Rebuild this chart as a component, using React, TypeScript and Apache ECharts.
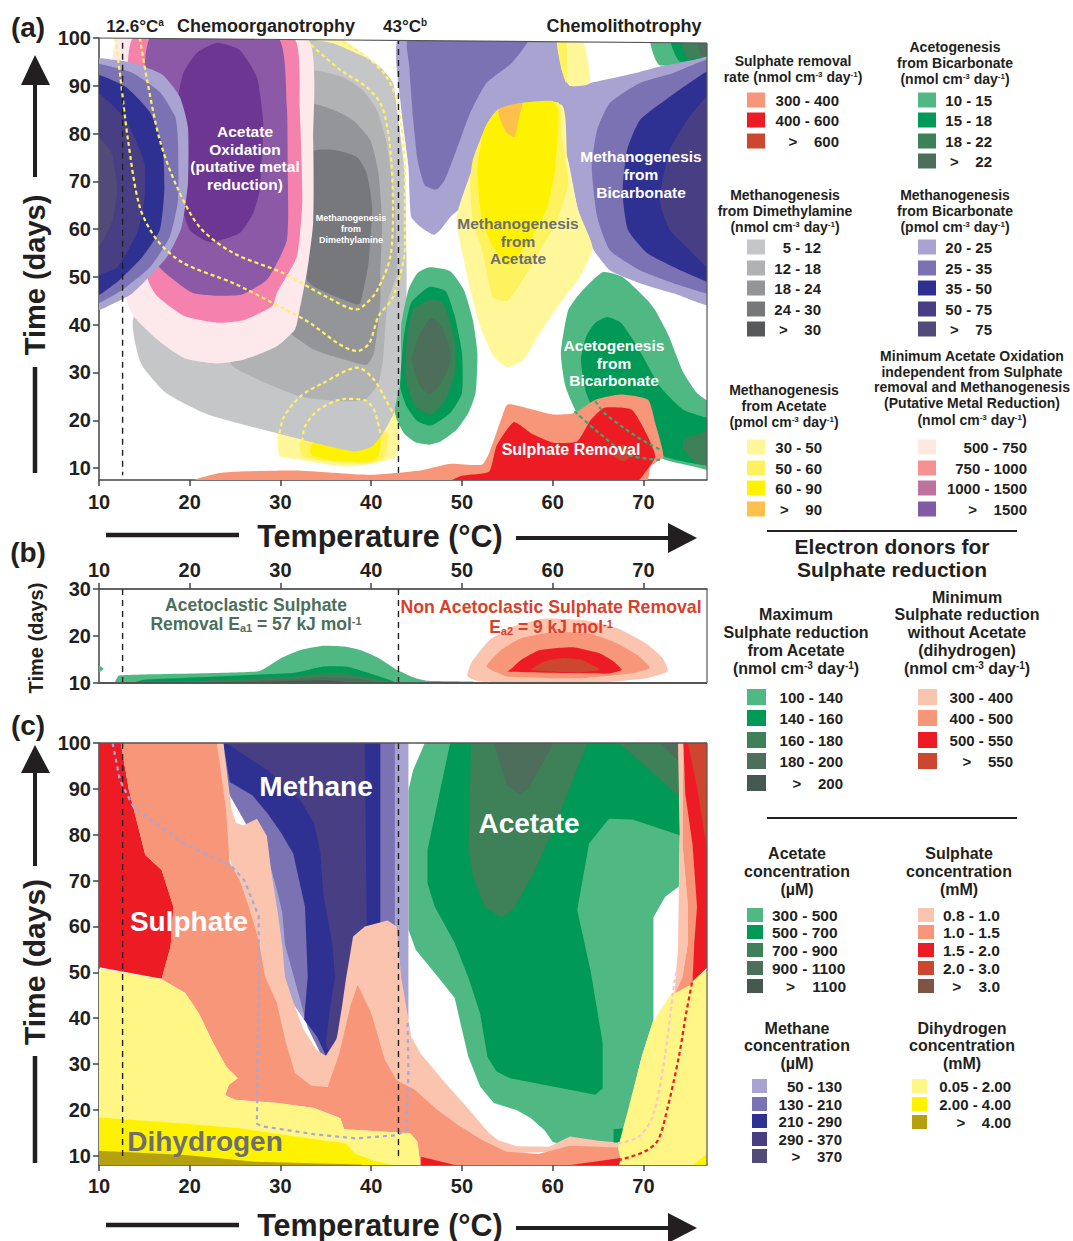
import React, { useEffect, useRef } from "react";
import * as echarts from "echarts";

type P = number[][];
const FONT = '"Liberation Sans"';
const INK = "#231F20";

// ---------- tick labels ----------
const tempTicks = [10, 20, 30, 40, 50, 60, 70];
const timeTicks = [10, 20, 30, 40, 50, 60, 70, 80, 90, 100];
const timeTicksB = [10, 20, 30];

// ---------- colours ----------
const cGray = ["#C4C6C8", "#B0B2B4", "#939598", "#77787B", "#58595B"];
const cPurple = ["#A9A3D1", "#7A72B3", "#2E3192", "#483E84", "#524A78"];
const cYellow = ["#FFF799", "#FFF25F", "#FFF200", "#FDC04B"];
const cGreen = ["#50B983", "#009955", "#3E8057", "#4C6E5A", "#46594F"];
const cRed = ["#FBC4AF", "#F79679", "#ED1C24", "#CC4630", "#7F5442"];
const cMetal = ["#FDE8EC", "#F582AC", "#8B59A5", "#6C3692"];
const cMetalKey = ["#FDE9E1", "#F59191", "#BF74A0", "#8159A4"];
const cH2 = ["#FFF685", "#FFF200", "#B5A00F"];

// ---------- panel (a) contours [temperature, days] ----------
const aYellowLow1: P = [[29.9,18],[29.9,12.5],[31.6,11.9],[37,10.3],[39.8,10.8],[42.8,12.5],[42.9,23],[38,22]];
const aYellowLow2: P = [[32.2,15.6],[32.4,12.5],[34.7,11.4],[39.3,10.9],[41.3,11.8],[41.8,17.3],[36,20]];
const aYellowLow3: P = [[33.4,14.9],[33.4,12.8],[36.2,11.4],[39.8,11.3],[40.8,12.5],[41,16.6],[37,20]];
const aGray1: P = [[13.8,41.4],[14.6,32],[17.4,25.7],[22,21.2],[29.6,17.3],[38,13.5],[40,14.4],[41.3,17.3],[42.8,23],[43.8,39.7],[43.9,50.8],[43.7,71.7],[42.8,85.6],[42.4,90.6],[41,93.9],[39.1,96.4],[35.8,99],[32.7,100],[30,100]];
const aGray2: P = [[33,92.9],[36.9,91.8],[39.1,89],[40.6,85],[41.7,78],[42.6,64.6],[42.8,50.8],[41.8,44.6],[41.3,32.7],[40.8,27.8],[39.3,24.3],[36.5,24],[32.2,25],[27.6,28.5],[24.5,32],[30,45]];
const aGray3: P = [[33.3,86],[35.8,85],[38,82.8],[39.9,78.6],[40.8,71.7],[41.2,61.3],[41,50.8],[41,44.6],[40.3,34],[39.5,31.6],[37,32.7],[33.7,34.8],[30.1,39.7],[28,45]];
const aGray4: P = [[33.5,76.1],[35.8,76.6],[38.4,75.1],[39.5,71.7],[40.1,64.6],[39.7,52.9],[38.8,44.5],[38.3,44.2],[32.9,49.4]];
const aBicarbR1: P = [[43.1,100],[43.2,87],[44.1,73],[44.4,62.6],[45.4,60.5],[46.9,58.8],[47.6,59.8],[48.7,62.5],[49.6,64],[52,68],[55,72],[60.6,78],[61.6,75],[62.8,64],[64.4,56],[66.3,51.4],[69.6,48.7],[73.3,46.6],[78,44.2],[78,96.9],[77,96.6],[73.3,94.8],[69.6,92.9],[64.1,90.6],[61.9,90],[61,93.3],[60.5,100]];
const aBicarbR2: P = [[44.1,100],[57.3,100],[55.6,95],[52.7,90.6],[50.9,84.3],[49.4,76.6],[48.1,70.3],[47.2,68.3],[45.9,69.2],[45.1,74.5],[44.6,83.5],[44.2,94]];
const aBicarbR2b: P = [[78,95],[77,95.5],[73.3,92.7],[69.6,90.6],[66.3,86.4],[64.9,80.8],[64.3,73],[64.9,62.6],[66.3,55.6],[69.6,51.4],[73.3,48.7],[77,46.5],[78,46]];
const aBicarbR3: P = [[78,92.5],[77,93],[72.9,87.7],[69.6,82.8],[68.2,76.6],[67.7,67.6],[68.3,59.8],[70.4,55],[73.3,52.1],[77,49],[78,48.5]];
const aBicarbR4: P = [[78,87],[77,87.7],[74.8,82.8],[72.9,76.6],[71.8,66],[72.9,59.8],[75.1,55.6],[77,52],[78,51.5]];
const aAcetate1: P = [[53,82],[54,85],[61,86],[61.6,75],[62.8,64],[64.4,56],[62.8,49.4],[61.1,45.3],[58.6,38.3],[56.8,32.7],[55,31.1],[53.5,33.4],[52,39.7],[51,46.7],[50.2,53.6],[49.4,62.5],[51.7,75.5]];
const aAcetate2: P = [[54,85],[60.6,86.5],[61,79.3],[61.7,69.6],[60.5,61.9],[58.6,55.6],[56.7,49.4],[55,45],[53.4,45.8],[52.3,55],[51.2,61.9],[50.9,69.6],[51.2,74.5],[52.8,82.2]];
const aAcetate3: P = [[54,85],[56.6,86.4],[60,86.8],[60.6,85],[60.5,78.6],[60.2,71.7],[59.4,64.6],[57.5,57.7],[55.1,52.5],[53.4,56.3],[52.2,61.9],[51.7,71.7],[52.2,79.3],[52.8,82.2]];
const aAcetate4: P = [[54,85],[56.6,86.4],[56.3,83.5],[55.8,79.3],[54.8,80.4]];
const aAcetateTop1: P = [[60.5,100],[63.2,100],[64.1,90.6],[61.9,90],[61,93.3]];
const aAcetateTop2: P = [[60.5,100],[61.5,100],[61.5,90.5],[61,93.3]];
const aAcetateTop3: P = [[33,100],[36.5,100],[39.5,96],[39.1,96.2],[35.8,98.9],[33,99.8]];
const aMetal1: P = [[12.1,100],[32.9,100],[33.6,78.6],[33.6,61.3],[32.9,50.8],[32.1,43],[31.6,39],[29.6,35.5],[26,32.7],[23,31.9],[19.4,33],[16.4,36.9],[13.8,41.8],[12.8,46.7]];
const aMetal2: P = [[13.7,100],[31.4,100],[32.1,85.6],[32.4,66],[31.8,54.2],[29.6,46.6],[29.1,43.9],[26,41],[23,40.4],[19.4,41.8],[16.4,46],[15.4,49.4]];
const aMetal3: P = [[15.6,100],[29.7,100],[30.7,85.6],[30.8,71.7],[30.7,57.7],[28.5,49.4],[25.5,46.2],[20.4,46.6],[17.3,50.8],[16.1,53.6]];
const aMetal4: P = [[23,99],[25.5,97.5],[27.4,91.8],[28.1,82.2],[27.7,68.2],[27,63.4],[25.5,59.2],[22.2,57.3],[20,59.8],[18.5,70],[18.5,85],[19.3,92.7],[20.8,96.9]];
const aBicarbL1: P = [[9,95.8],[10,95.8],[13.7,94.8],[17,92.3],[18.9,87.7],[19.8,81.4],[19.8,69.6],[19.1,60.4],[17.5,54.2],[13.7,46.6],[10,43],[9,42.5]];
const aBicarbL2: P = [[9,94.6],[10,94.6],[13.7,92.7],[16.7,88.7],[18.4,83.5],[18.7,78.6],[18.7,66],[17.8,58.4],[15.6,52],[12.6,47.3],[10,44.5],[9,44]];
const aBicarbL3: P = [[9,92.3],[10,92.3],[13,89.7],[15.6,84.5],[17,77.2],[17.2,68.2],[16.7,59.8],[14.8,54.2],[12.3,49.4],[10,46.2],[9,46]];
const aBicarbL4: P = [[9,88.5],[10,88.5],[13,82.8],[15,73.8],[15,66],[14.2,59.2],[12,52],[10,50.4],[9,50]];
const aBicarbL5: P = [[9,79.3],[10,79.3],[11.4,75.9],[12,68.2],[11.5,61.9],[10,56.3],[9,56]];
const aGreenMid1: P = [[46.4,52],[48.7,51.2],[50.2,47.3],[51.2,41],[51.7,34],[51.5,25.7],[50.7,21.5],[49.4,18],[47.7,15.6],[46.4,14.9],[44.9,15.4],[43.6,17.3],[42.6,21.5],[43.3,29.2],[43.3,39.7],[44.1,47.3],[45.1,50.8]];
const aGreenMid2: P = [[46.4,47.9],[48.2,47],[49.2,41.8],[50,34],[50,25.7],[48.7,21.5],[46.6,18.9],[45.1,19.8],[43.9,22.9],[43.2,27],[43.6,37.6],[44.4,44.6]];
const aGreenMid3: P = [[46.6,45.3],[47.9,44.6],[49.2,36.9],[49.2,29.9],[48.2,24.3],[46.6,21.2],[44.9,22.9],[43.9,27.8],[43.9,36.9],[44.6,43.2]];
const aGreenMid4: P = [[46.6,41.4],[47.7,39.7],[48.7,34.8],[48.7,32],[47.7,27.8],[46.5,25.4],[45.4,27.1],[44.5,32.7],[45.4,38.3]];
const aGreenR1: P = [[65.5,51],[67.7,50],[70.4,45.2],[71.3,43],[72.8,37.6],[74.4,30],[75.9,25.7],[77.4,23.6],[78,23],[78,9.6],[75.4,10.4],[72.3,11.8],[65,18],[62.7,21.5],[61.4,27.1],[60.9,34],[61.7,43],[63,46.6]];
const aGreenR2: P = [[66,41.6],[67.5,40.4],[69.3,35.5],[71.8,27.1],[74.4,22.2],[77.4,20.3],[78,20],[78,10.8],[75.4,11],[72.3,12.4],[65.2,20.1],[63.7,25.7],[63.1,32.7],[63.7,37.6],[64.7,40.4]];
const aGreenR3: P = [[78,17.8],[77.4,18],[74.4,15.9],[74.4,13.9],[75.9,11],[77.4,10.4],[78,10.3]];
const aGreenTop1: P = [[70.8,100],[78,100],[78,96.9],[71.8,94.3]];
const aGreenTop2: P = [[73,100],[78,100],[78,96.9],[74,95.1]];
const aGreenTop3: P = [[74.2,100],[78,100],[78,96.9],[74.9,95.7]];
const aGreenTop4: P = [[75.9,100],[78,100],[78,96.9],[76.4,96.4]];
const aSulphate1: P = [[20.2,7.2],[23.5,9],[31.6,9.5],[39.8,8.6],[45.4,9.5],[48.7,10.9],[52.2,10.7],[53,13.2],[54.3,20.1],[55,23.3],[56.5,22.9],[60.1,21.2],[62.4,21.5],[64.7,24.3],[67.5,25.4],[70.5,24.3],[71.3,19.4],[72.2,12.4],[70.8,10.4],[70.3,7.2]];
const aSulphate2: P = [[48.7,7.2],[50,8.4],[53,9.3],[53.8,14.6],[55.7,19.6],[57.6,17.3],[60.1,15.3],[62.7,15.6],[64.2,20.1],[65.7,22.6],[68.7,22.2],[70.3,17.3],[71.3,12.4],[70,8.6],[69.3,7.2]];
const aSulphate3: P = [[66.7,13.9],[67.8,14.9],[68.9,13.1],[67.8,11.4],[66.7,12.5]];

// dashed outlines of panel (a)
const aDashA: P = [[11.8,100],[12.3,92.7],[13.2,78.6],[14.5,64.6],[16.4,57.7],[19.3,52.9],[24.8,48.7],[29.1,44.6],[32.7,41],[38.5,34.5],[39.8,36.2],[40.8,41.8],[42.4,45.8],[43.7,56.3],[43.7,71.7],[43,85.6],[41.7,91.8],[39.5,96],[36.9,99.2]];
const aDashB: P = [[14.5,100],[15.3,91.2],[16.7,78.6],[18.6,68.8],[21.1,60.4],[24.8,55],[30.3,50.8],[35.1,45.8],[38.4,43.2],[39.3,44.2],[40.6,47],[42.1,54.2],[42.4,64.6],[42.1,76.6],[41.2,85.6],[39.5,89.7],[36.6,93.3],[33,99.2]];
const aDashC: P = [[29.9,17.3],[30.4,20.8],[32.2,25],[34.7,27.8],[38.5,31],[40.3,28.5],[41.6,24.3],[42.6,20.8]];
const aDashD: P = [[32.4,15.6],[32.7,18.7],[34.2,22.2],[37.2,24.5],[39.3,24.2],[40.3,22.2],[41,17.3]];
const aDashE: P = [[64.7,24],[65.7,21.5],[69.3,16.5],[72,13.7]];
const aDashF: P = [[62.4,21.9],[64.7,18],[68.3,12.8],[71.8,11.7]];

// ---------- panel (b) contours ----------
const bGreen1: P = [[11.8,10],[12.2,11.6],[27.6,12.5],[30.1,15.3],[32.2,17],[34.7,17.9],[37.2,17.7],[38.8,17],[40.8,15.3],[42.8,12.8],[44.9,11],[46.1,10.5],[51.2,10.3],[51.5,10]];
const bGreen2: P = [[13.8,10],[14.9,10.7],[31.6,12.2],[34.7,13.5],[37.2,13.5],[39.8,12.1],[42.8,10]];
const bGreen3: P = [[16.4,10],[31.6,11.4],[34.7,12.1],[37.2,12],[42.3,10]];
const bGreen4: P = [[18.4,10],[31.6,10.8],[34.7,11.2],[38.8,10.8],[41.3,10]];
const bGreen5: P = [[24.5,10],[34.7,10.6],[38.3,10]];
const bGreenDot: P = [[10,13.7],[10.5,13],[10,12.3]];
const bRed1: P = [[50.6,11.4],[51,14.2],[53,19.1],[55.5,21.9],[59.1,23.7],[63.7,23.3],[67.2,21.6],[70.3,18.4],[72.1,15.3],[72.7,12.5],[70.3,11],[65.2,10.1],[55,10.1],[52,10.3]];
const bRed2: P = [[52.7,13.5],[54.3,17],[56.5,19.5],[59.6,20.7],[63.7,20.7],[66.7,18.8],[69.3,16],[70.7,13.2],[68.8,12.1],[62.7,11],[55,11.4]];
const bRed3: P = [[55.3,12.8],[56.5,14.9],[58.6,17],[62.2,17.6],[65.2,16.3],[66.7,14.6],[67.6,12.8],[66.2,12],[55,12.4]];
const bRed4: P = [[57.6,12.8],[59.1,14.6],[61.1,15.3],[63.2,14.9],[65.2,12.8],[62.7,12.2]];

// ---------- panel (c) contours ----------
const cMethane1: P = [[23.7,100],[44.1,100],[44.1,39.7],[43,45],[36,30],[29,50],[28,75]];
const cMethane2: P = [[23.7,100],[42.6,100],[42.6,60],[38,40],[35,30],[33,38],[30.5,56],[30.2,63],[29.6,68],[28.9,73],[24,90]];
const cMethane3: P = [[23.7,100],[41,100],[41,60],[38,45],[35.2,31],[34,36],[32.6,39.7],[33,49],[32.7,64.3],[31.4,75.9],[30.1,80.3],[28.6,84.6],[26.9,88.6],[24.4,91.5]];
const cMethane4: P = [[24,100],[39.3,100],[39.5,60],[37.5,45],[35.5,31.5],[35,34.6],[35.5,42.6],[36,49],[35.7,56.4],[34.7,67.2],[34.4,76],[33.7,82.5],[32.2,87.5],[28.6,94]];
const cAcetate1: P = [[44.1,89.7],[44.6,94],[45.9,100],[73.9,100],[74,80],[73.9,68.7],[72.4,66.5],[71.1,62],[71.1,50],[71.1,39.7],[69.8,31.6],[68.3,19.3],[67.3,12.9],[62,12],[60,13],[59.1,15.6],[57.6,18.2],[56,20],[53.5,21.5],[52,25.1],[50.7,31.6],[50,37.5],[49.2,44.4],[47.4,48.9],[44.9,54.9],[44.1,59.3]];
const cAcetate2: P = [[48.7,100],[46.2,76.7],[46.2,69.4],[47,64.3],[49.2,56.4],[50.7,48.9],[52,41],[52.8,31.6],[53.8,28.4],[55.3,26.9],[64.7,23.3],[65.5,24.7],[65.5,34.6],[64.2,50],[62.7,63.6],[64,78.1],[66.2,83.5],[68.8,83.3],[74,79.9],[73.9,88.3],[73.9,100]];
const cAcetate3: P = [[51,100],[50.7,76.7],[51.2,70.9],[52.5,64.3],[54.3,62],[55.6,63.6],[57.7,70.9],[60.2,81.7],[63.8,100]];
const cAcetate3b: P = [[67.3,100],[70.3,94.8],[73.9,88.3],[73.9,100]];
const cAcetate4: P = [[53.5,100],[55,90.8],[56.3,88.8],[57.3,90],[60.1,100]];
const cAcetate4b: P = [[71.9,100],[73.9,95.9],[73.9,100]];
const cAcetateSmall: P = [[66.7,15.8],[67.8,16],[68,15],[67.6,12.9],[66.7,12.9]];
const cSulphateRedLeft: P = [[9,100],[12.4,100],[13.3,89.7],[15.1,75.6],[16.9,72.3],[18.2,64.3],[17.9,55.7],[16.9,48.6],[9,51.5]];
const cSulphatePale: P = [[23,100],[23.7,100],[24.6,85.5],[25.1,82.6],[25.9,82],[27.4,83.5],[28.5,79.7],[29,71.7],[29.7,63],[30.2,55.8],[30.5,49],[31.5,43],[32.5,37.7],[34,33],[35,31.8],[36.2,35.5],[36.8,42.8],[37.2,48.4],[38,57.8],[39.3,60],[41.8,61.3],[42.8,60],[43.3,48.9],[44.1,39.7],[44.4,36],[45.4,32.4],[47.9,26.5],[50.5,20.7],[53,14.9],[54,13.4],[56,12.1],[59.6,12],[61.9,14.2],[65,13.3],[67.2,12.9],[67.5,11.5],[54.9,10.5],[47.3,19],[44,22],[38.5,30],[33,22],[27,45],[24,80]];
const cSulphateMain: P = [[12.4,100],[23,100],[24,85.4],[24.4,73.8],[25.5,70.1],[26.5,64.3],[27.6,57],[28.3,49.1],[29.6,43.3],[30.6,34.6],[31.6,28],[33.4,25.3],[35.2,25],[36.5,32.4],[37.7,42.6],[38.5,47.3],[40,41.1],[41.5,30.9],[42.8,26.5],[44.8,24.4],[47.3,20],[49.8,16.4],[52.3,13.4],[54.9,10.9],[58.4,10.4],[61.9,12.2],[67.2,11.8],[67.5,9],[67.4,7],[45.4,7],[45.4,8],[45.1,13],[44.3,14.9],[37,15.8],[36.6,18.2],[33.7,20.4],[29.7,21.5],[25,22.2],[23.9,23.2],[24.3,25.5],[25.3,26.9],[24,29.5],[22.5,34.9],[21,41.1],[19.5,45.5],[16.9,48.5],[17.9,55.7],[18.2,64.3],[16.9,72.3],[15.1,75.6],[13.3,89.7]];
const cSulphateBottom1: P = [[45.5,7],[45.5,9.8],[49.2,8],[49.2,7]];
const cSulphateBottom2: P = [[62,8],[67.5,9.5],[67.5,7],[62,7]];
const cRightPale: P = [[73.8,100],[74.4,100],[74.3,78],[74.9,64.3],[74.9,56.4],[74.3,49],[73.4,45],[73.8,55],[73.9,68],[74,80]];
const cRightSalmon: P = [[74.4,100],[74.3,78],[74.9,64.3],[74.9,56.4],[74.3,49],[73.5,45.5],[75.4,47.5],[76,65],[75,100]];
const cRightRed: P = [[74.4,100],[78,100],[78,55],[77,51],[75.4,48],[75.6,56.4],[75.9,64.3],[75.4,78],[74.6,89]];
const cRightDark: P = [[74.9,100],[78,100],[78,68],[77.3,71],[76.9,78],[75.9,90.4]];
const cH2Left1: P = [[9,51.2],[16.9,48.5],[19.5,45.5],[21,41.1],[22.5,34.9],[24,29.5],[25.3,26.9],[24.3,25.5],[23.9,23.2],[25,22.2],[29.7,21.5],[33.7,20.4],[36.6,18.2],[37,15.8],[44.3,14.9],[45.1,13],[45.4,8],[45.4,7],[9,7]];
const cH2Left2: P = [[9,18.5],[19.5,17],[25.5,16],[31.6,14.2],[37.2,12.7],[38.2,10.5],[40.2,9],[42.3,8],[42.3,7],[9,7]];
const cH2Left3: P = [[9,11.2],[19.5,10.2],[27.2,8.7],[38.9,8.1],[38.9,7],[9,7]];
const cH2Right1: P = [[67.2,11.8],[68.3,20],[69.8,31.6],[71,39],[73.1,45.5],[75,48.4],[77,50.5],[78,51],[78,7],[67.2,7],[67.5,9.5]];
const cH2Right2: P = [[75.5,8],[77,10.5],[78,11],[78,7],[75.5,7]];
const cDashMethane: P = [[11.5,100],[12.3,91.9],[13.8,86],[19.4,78],[24.5,73.4],[26,70.1],[27.6,62.2],[27.6,49],[27.4,17],[28.1,16.4],[33.7,14.7],[38.3,13.8],[42.8,14.5],[43.9,15.6],[44.1,28.7],[44,39.7]];
const cDashPink: P = [[67.2,12.7],[69.5,14.2],[71,18.5],[72.3,30.9],[73.3,46.2],[73.6,50]];
const cDashRed: P = [[67.2,9],[70.1,10.9],[71.6,13.4],[72.6,20],[73.9,31.6],[74.7,41],[75.4,48.3]];

// reference temperatures (dashed verticals)
const lineA126: P = [[12.6, 99], [12.6, 8.5]];
const lineA43: P = [[43, 100], [43, 9]];
const lineB126: P = [[12.6, 30], [12.6, 10]];
const lineB43: P = [[43, 30], [43, 10]];
const lineC126: P = [[12.6, 100], [12.6, 9.2]];
const lineC43: P = [[43, 100], [43, 9.2]];

const layersA: [P, string][] = [
  [aYellowLow1, cYellow[0]], [aYellowLow2, cYellow[1]], [aYellowLow3, cYellow[2]],
  [aGray1, cGray[0]], [aGray2, cGray[1]], [aGray3, cGray[2]], [aGray4, cGray[3]],
  [aAcetateTop3, cYellow[0]],
  [aBicarbR1, cPurple[0]], [aBicarbR2, cPurple[1]], [aBicarbR2b, cPurple[1]], [aBicarbR3, cPurple[2]], [aBicarbR4, cPurple[3]],
  [aAcetate1, cYellow[0]], [aAcetate2, cYellow[1]], [aAcetate3, cYellow[2]], [aAcetate4, cYellow[3]],
  [aAcetateTop1, cYellow[0]], [aAcetateTop2, cYellow[1]],
  [aMetal1, cMetal[0]], [aMetal2, cMetal[1]], [aMetal3, cMetal[2]], [aMetal4, cMetal[3]],
  [aBicarbL1, cPurple[0]], [aBicarbL2, cPurple[1]], [aBicarbL3, cPurple[2]], [aBicarbL4, cPurple[3]], [aBicarbL5, cPurple[4]],
  [aGreenMid1, cGreen[0]], [aGreenMid2, cGreen[1]], [aGreenMid3, cGreen[2]], [aGreenMid4, cGreen[3]],
  [aGreenR1, cGreen[0]], [aGreenR2, cGreen[1]], [aGreenR3, cGreen[2]],
  [aGreenTop1, cGreen[0]], [aGreenTop2, cGreen[1]], [aGreenTop3, cGreen[2]], [aGreenTop4, cGreen[3]],
  [aSulphate1, cRed[1]], [aSulphate2, cRed[2]], [aSulphate3, cRed[3]],
];
const layersB: [P, string][] = [
  [bGreen1, cGreen[0]], [bGreen2, cGreen[1]], [bGreen3, cGreen[2]], [bGreen4, cGreen[3]], [bGreen5, cGreen[4]], [bGreenDot, cGreen[0]],
  [bRed1, cRed[0]], [bRed2, cRed[1]], [bRed3, cRed[2]], [bRed4, cRed[3]],
];
const layersC: [P, string][] = [
  [cAcetate1, cGreen[0]], [cAcetate2, cGreen[1]], [cAcetate3, cGreen[2]], [cAcetate3b, cGreen[2]], [cAcetate4, cGreen[3]], [cAcetate4b, cGreen[3]],
  [cMethane1, cPurple[0]], [cMethane2, cPurple[1]], [cMethane3, cPurple[2]], [cMethane4, cPurple[3]],
  [cSulphatePale, cRed[0]], [cSulphateRedLeft, cRed[2]], [cSulphateMain, cRed[1]],
  [cSulphateBottom1, cRed[2]], [cSulphateBottom2, cRed[2]],
  [cAcetateSmall, cGreen[1]],
  [cH2Left1, cH2[0]], [cH2Left2, cH2[1]], [cH2Left3, cH2[2]], [cH2Right1, cH2[0]], [cH2Right2, cH2[1]],
  [cRightPale, cRed[0]], [cRightSalmon, cRed[1]], [cRightRed, cRed[2]], [cRightDark, cRed[3]],
];

// ---------- legend contents ----------
const NM = "(nmol cm{s|-3} day{s|-1})";
const PM = "(pmol cm{s|-3} day{s|-1})";
const keySulphateRemoval = ["300 - 400", "400 - 600", ">    600"];
const keyAcetogenesis = ["10 - 15", "15 - 18", "18 - 22", ">    22"];
const keyDimethylamine = ["5 - 12", "12 - 18", "18 - 24", "24 - 30", ">    30"];
const keyBicarbonate = ["20 - 25", "25 - 35", "35 - 50", "50 - 75", ">    75"];
const keyAcetateMeth = ["30 - 50", "50 - 60", "60 - 90", ">    90"];
const keyOxidation = ["500 - 750", "750 - 1000", "1000 - 1500", ">    1500"];
const keyMaxAcetate = ["100 - 140", "140 - 160", "160 - 180", "180 - 200", ">    200"];
const keyMinNoAcetate = ["300 - 400", "400 - 500", "500 - 550", ">    550"];
const keyAcetateConc = ["300 - 500", "500 - 700", "700 - 900", "900 - 1100", ">    1100"];
const keySulphateConc = ["0.8 - 1.0", "1.0 - 1.5", "1.5 - 2.0", "2.0 - 3.0", ">    3.0"];
const keyMethaneConc = ["50 - 130", "130 - 210", "210 - 290", "290 - 370", ">    370"];
const keyH2Conc = ["0.05 - 2.00", "2.00 - 4.00", ">    4.00"];

const legends: any[] = [
  { t: ["Sulphate removal", "rate " + NM], ts: 14, cx: 793, ty: [61, 77], sx: 747, sw: 18, sh: 15, ys: [100, 120, 141], r: 839, labels: keySulphateRemoval, colors: cRed.slice(1, 4) },
  { t: ["Acetogenesis", "from Bicarbonate", NM], ts: 14, cx: 955, ty: [47, 63, 79], sx: 918, sw: 18, sh: 15, ys: [100, 120, 141, 161], r: 992, labels: keyAcetogenesis, colors: cGreen.slice(0, 4) },
  { t: ["Methanogenesis", "from Dimethylamine", NM], ts: 14, cx: 785, ty: [195, 211, 227], sx: 747, sw: 18, sh: 15, ys: [247, 268, 288, 309, 329], r: 821, labels: keyDimethylamine, colors: cGray },
  { t: ["Methanogenesis", "from Bicarbonate", PM], ts: 14, cx: 955, ty: [195, 211, 227], sx: 918, sw: 18, sh: 15, ys: [247, 268, 288, 309, 329], r: 992, labels: keyBicarbonate, colors: cPurple },
  { t: ["Methanogenesis", "from Acetate", PM], ts: 14, cx: 784, ty: [390, 406, 422], sx: 747, sw: 18, sh: 15, ys: [447, 468, 488, 509], r: 822, labels: keyAcetateMeth, colors: cYellow },
  { t: ["Minimum Acetate Oxidation", "independent from Sulphate", "removal and Methanogenesis", "(Putative Metal Reduction)", NM], ts: 14, cx: 972, ty: [356, 372, 387, 403, 420], sx: 918, sw: 18, sh: 15, ys: [447, 468, 488, 509], r: 1027, labels: keyOxidation, colors: cMetalKey },
  { t: ["Maximum", "Sulphate reduction", "from Acetate", NM], ts: 16, cx: 796, ty: [614, 632, 650, 668], sx: 747, sw: 19, sh: 16, ys: [697, 718, 740, 761, 783], r: 843, labels: keyMaxAcetate, colors: cGreen },
  { t: ["Minimum", "Sulphate reduction", "without Acetate", "(dihydrogen)", NM], ts: 16, cx: 967, ty: [597, 614, 632, 650, 668], sx: 918, sw: 19, sh: 16, ys: [697, 718, 740, 761], r: 1013, labels: keyMinNoAcetate, colors: cRed.slice(0, 4) },
  { t: ["Acetate", "concentration", "(µM)"], ts: 16, cx: 797, ty: [853, 871, 889], sx: 747, sw: 16, sh: 14, ys: [915, 932, 950, 968, 986], l: 772, gtR: 846, labels: keyAcetateConc, colors: cGreen },
  { t: ["Sulphate", "concentration", "(mM)"], ts: 16, cx: 959, ty: [853, 871, 889], sx: 918, sw: 16, sh: 14, ys: [915, 932, 950, 968, 986], l: 943, gtR: 1000, labels: keySulphateConc, colors: cRed },
  { t: ["Methane", "concentration", "(µM)"], ts: 16, cx: 797, ty: [1028, 1045, 1063], sx: 752, sw: 15, sh: 14, ys: [1086, 1104, 1121, 1139, 1156], r: 842, labels: keyMethaneConc, colors: cPurple },
  { t: ["Dihydrogen", "concentration", "(mM)"], ts: 16, cx: 962, ty: [1028, 1045, 1063], sx: 912, sw: 15, sh: 14, ys: [1086, 1104, 1122], r: 1011, labels: keyH2Conc, colors: cH2 },
];

// ---------- drawing helpers ----------
const rich = (size: number, fill: string) => ({
  s: { fontSize: Math.round(size * 0.6), fontWeight: "bold", fontFamily: FONT, fill, verticalAlign: "top", lineHeight: size },
  u: { fontSize: Math.round(size * 0.6), fontWeight: "bold", fontFamily: FONT, fill, verticalAlign: "bottom", lineHeight: size },
});
function txt(text: string, x: number, y: number, size: number, fill = INK, align = "center", rotation = 0) {
  return {
    type: "text", x, y, rotation, z: 110, silent: true,
    style: {
      text, x: 0, y: 0, fill, fontSize: size, fontWeight: "bold", fontFamily: FONT,
      align, textAlign: align, verticalAlign: "middle", textVerticalAlign: "middle",
      rich: text.includes("{") ? { ...rich(size, fill) } : undefined,
    },
  };
}
const lineEl = (x1: number, y1: number, x2: number, y2: number, w: number, stroke = "#231F20") => ({
  type: "line", z: 105, silent: true, shape: { x1, y1, x2, y2 }, style: { stroke, lineWidth: w },
});
const polyEl = (points: number[][], fill: string, z = 105) => ({ type: "polygon", z, silent: true, shape: { points }, style: { fill } });

function arrowUp(top: number, headEnd: number, stemEnd: number, lineStart: number, lineEnd: number) {
  return [
    polyEl([[35, top], [21, headEnd], [50, headEnd]], INK),
    lineEl(35, headEnd, 35, stemEnd, 4),
    lineEl(35, lineStart, 35, lineEnd, 4.5),
  ];
}
function arrowRight(y: number) {
  return [
    lineEl(106, y - 2, 239, y - 2, 4.5),
    lineEl(516, y + 1, 670, y + 1, 4),
    polyEl([[668, y - 14], [697, y + 1], [668, y + 16]], INK),
  ];
}

function polySeries(layers: [P, string][], grid: number, smooth: number) {
  return {
    type: "custom", xAxisIndex: grid, yAxisIndex: grid, clip: true, silent: true, z: 2,
    encode: { x: 0, y: 1 },
    data: layers.map((l, i) => [l[0][0][0], l[0][0][1], i]),
    renderItem: (_p: any, api: any) => {
      const layer = layers[api.value(2)];
      return {
        type: "polygon",
        shape: { points: layer[0].map((pt) => api.coord(pt)), smooth },
        style: { fill: layer[1] },
      };
    },
  };
}
function dashSeries(data: P, grid: number, color: string, width: number, dash: number[], z = 3, smooth = 0) {
  return {
    type: "line", xAxisIndex: grid, yAxisIndex: grid, data, showSymbol: false, symbol: "none", silent: true, z, clip: true, smooth,
    lineStyle: { color, width, type: dash }, animation: false,
  };
}

const axisFont = { fontFamily: FONT, fontWeight: "bold" as const, fontSize: 20, color: INK };
function xAx(grid: number, position: string, margin: number) {
  return {
    type: "value", gridIndex: grid, position, min: 10, max: 77, interval: 10,
    splitLine: { show: false },
    axisLine: { show: true, onZero: false, lineStyle: { color: "#444", width: 1.5 } },
    axisTick: { show: true, length: 6, customValues: tempTicks, lineStyle: { color: "#444", width: 1.5 } },
    axisLabel: { ...axisFont, margin, customValues: tempTicks },
  };
}
function yAx(grid: number, min: number, max: number, ticks: number[]) {
  return {
    type: "value", gridIndex: grid, min, max,
    splitLine: { show: false },
    axisLine: { show: true, onZero: false, lineStyle: { color: "#444", width: 1.5 } },
    axisTick: { show: true, length: 6, customValues: ticks, lineStyle: { color: "#444", width: 1.5 } },
    axisLabel: { ...axisFont, margin: 8, customValues: ticks },
  };
}

function buildGraphics() {
  const els: any[] = [];
  // frames
  els.push(polyEl([[100, 34], [712, 34], [712, 43], [100, 38]], "#fff", 50));
  els.push(lineEl(99, 38, 707, 43, 1.2, "#555"), lineEl(707, 43, 707, 480, 1.2, "#555"));
  els.push(lineEl(99, 589, 707, 589, 1.2, "#555"), lineEl(707, 589, 707, 683, 1.2, "#555"), lineEl(99, 683, 707, 683, 1.8, "#555"));
  els.push(lineEl(99, 743, 707, 743, 1.5, "#555"), lineEl(707, 743, 707, 1165, 1.2, "#555"));
  // arrows and axis titles
  els.push(...arrowUp(55, 85, 177, 367, 473), ...arrowUp(745, 773, 866, 1056, 1163));
  els.push(...arrowRight(537), ...arrowRight(1227));
  els.push(txt("Time (days)", 35, 275, 29, INK, "center", Math.PI / 2));
  els.push(txt("Time (days)", 34, 962, 30, INK, "center", Math.PI / 2));
  els.push(txt("Time (days)", 36, 638, 20, INK, "center", Math.PI / 2));
  els.push(txt("Temperature (°C)", 380, 536, 30.5), txt("Temperature (°C)", 380, 1225, 30.5));
  // panel letters and top notes
  els.push(txt("(a)", 28, 27, 28), txt("(b)", 28, 552, 28), txt("(c)", 28, 725, 28));
  els.push(txt("12.6°C{s|a}", 135, 26, 17), txt("Chemoorganotrophy", 266, 26, 18), txt("43°C{s|b}", 405, 26, 17), txt("Chemolithotrophy", 624, 26, 18));
  // labels inside the panels
  ["Acetate", "Oxidation", "(putative metal", "reduction)"].forEach((s, i) => els.push(txt(s, 245, [131, 149, 166, 184][i], 15.5, "#fff")));
  ["Methanogenesis", "from", "Bicarbonate"].forEach((s, i) => els.push(txt(s, 641, [156, 174, 192][i], 15.5, "#fff")));
  ["Methanogenesis", "from", "Dimethylamine"].forEach((s, i) => els.push(txt(s, 351, [218, 229, 240][i], 9, "#fff")));
  ["Methanogenesis", "from", "Acetate"].forEach((s, i) => els.push(txt(s, 518, [223, 241, 258][i], 15.5, "#6D6E71")));
  ["Acetogenesis", "from", "Bicarbonate"].forEach((s, i) => els.push(txt(s, 614, [345, 363, 380][i], 15.5, "#fff")));
  els.push(txt("Sulphate Removal", 571, 449, 16, "#fff"));
  els.push(txt("Acetoclastic Sulphate", 256, 605, 17.5, "#4C6E5A"), txt("Removal E{u|a1} = 57 kJ mol{s|-1}", 256, 624, 17.5, "#4C6E5A"));
  els.push(txt("Non Acetoclastic Sulphate Removal", 551, 607, 17.7, "#D9402B"), txt("E{u|a2} = 9 kJ mol{s|-1}", 551, 627, 17.5, "#D9402B"));
  els.push(txt("Methane", 316, 786, 28, "#fff"), txt("Acetate", 529, 823, 28, "#fff"), txt("Sulphate", 189, 921, 28, "#fff"), txt("Dihydrogen", 205, 1141, 28, "#6D6E71"));
  // legends
  for (const g of legends) {
    g.t.forEach((s: string, i: number) => els.push(txt(s, g.cx, g.ty[i], g.ts)));
    g.labels.forEach((s: string, i: number) => {
      els.push({ type: "rect", z: 105, silent: true, shape: { x: g.sx, y: g.ys[i] - g.sh / 2, width: g.sw, height: g.sh }, style: { fill: g.colors[i] } });
      const isGt = s.startsWith(">");
      if (g.r !== undefined) els.push(txt(s, g.r, g.ys[i], 15, INK, "right"));
      else els.push(txt(s, isGt ? g.gtR : g.l, g.ys[i], 15.5, INK, isGt ? "right" : "left"));
    });
  }
  els.push(lineEl(767, 531, 1017, 531, 2), lineEl(767, 818, 1017, 818, 2));
  els.push(txt("Electron donors for", 892, 546, 21), txt("Sulphate reduction", 892, 569, 21));
  return els;
}

export default function App() {
  const ref = useRef<HTMLDivElement>(null);
  useEffect(() => {
    document.body.style.margin = "0";
    const chart = echarts.init(ref.current as HTMLDivElement, undefined, { renderer: "svg" });
    const dY = "#FFF25F";
    const blackDash = [6, 5];
    chart.setOption({
      animation: false,
      backgroundColor: "#fff",
      grid: [
        { left: 99, top: 38, width: 608, height: 442 },
        { left: 99, top: 589, width: 608, height: 94 },
        { left: 99, top: 743, width: 608, height: 422 },
      ],
      xAxis: [xAx(0, "bottom", 12), xAx(1, "top", 9), xAx(2, "bottom", 11)],
      yAxis: [yAx(0, 7.5, 100, timeTicks), yAx(1, 10, 30, timeTicksB), yAx(2, 8, 100, timeTicks)],
      series: [
        polySeries(layersA, 0, 0.18),
        polySeries(layersB, 1, 0.15),
        polySeries(layersC, 2, 0),
        dashSeries(aDashA, 0, dY, 2.2, [4, 3], 3, 0.3),
        dashSeries(aDashB, 0, dY, 2.2, [4, 3], 3, 0.3),
        dashSeries(aDashC, 0, dY, 2.2, [4, 3], 3, 0.3),
        dashSeries(aDashD, 0, dY, 2.2, [4, 3], 3, 0.3),
        dashSeries(aDashE, 0, "#3DAA6D", 2.2, [4, 3], 3, 0.3),
        dashSeries(aDashF, 0, "#3DAA6D", 2.2, [4, 3], 3, 0.3),
        dashSeries(cDashMethane, 2, "#A4A8DC", 2.2, [4, 4]),
        dashSeries(cDashPink, 2, "#F8C6D0", 2.2, [4, 3], 3, 0.3),
        dashSeries(cDashRed, 2, "#ED1C24", 2.2, [4, 3], 3, 0.3),
        dashSeries(lineA126, 0, "#231F20", 1.4, blackDash, 4),
        dashSeries(lineA43, 0, "#231F20", 1.4, blackDash, 4),
        dashSeries(lineB126, 1, "#231F20", 1.4, blackDash, 4),
        dashSeries(lineB43, 1, "#231F20", 1.4, blackDash, 4),
        dashSeries(lineC126, 2, "#231F20", 1.4, blackDash, 4),
        dashSeries(lineC43, 2, "#231F20", 1.4, blackDash, 4),
      ],
      graphic: { elements: buildGraphics() },
    });
    return () => chart.dispose();
  }, []);
  return <div ref={ref} style={{ width: 1073, height: 1241 }} />;
}
